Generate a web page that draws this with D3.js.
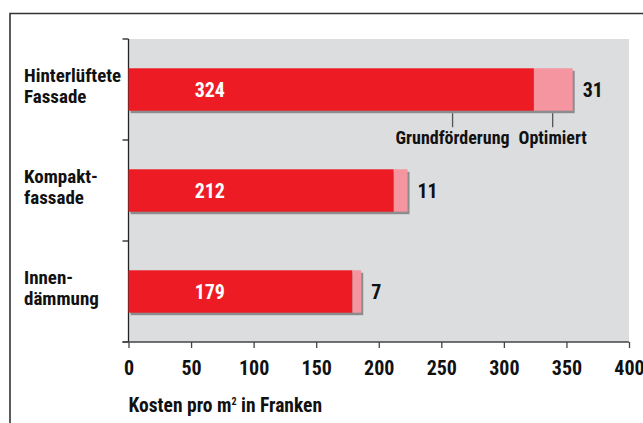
<!DOCTYPE html>
<html>
<head>
<meta charset="utf-8">
<script src="https://cdn.jsdelivr.net/npm/d3@7"></script>
<style>
  body { margin: 0; background: #fff; }
  svg text { font-family: "Liberation Sans Narrow", "Roboto Condensed", "DejaVu Sans Condensed", sans-serif; font-weight: bold; }
</style>
</head>
<body>
<script>
const WIDTH = 643;
const HEIGHT = 423;

// data
const categories = [["Hinterlüftete", "Fassade"], ["Kompakt-", "fassade"], ["Innen-", "dämmung"]];
const basis = [324, 212, 179];      // Grundförderung
const optimiert = [31, 11, 7];       // Zusatz optimiert
const xTicks = [0, 50, 100, 150, 200, 250, 300, 350, 400];

const RED = "#ed1c24";
const PINK = "#f4959f";
const BG = "#dcdddf";
const SHADOW = "#8c8c8e";

let svg = d3.select("body").append("svg")
            .attr("width", WIDTH)
            .attr("height", HEIGHT);

// outer frame (only top + left visible)
svg.append("path")
   .attr("d", `M10,${HEIGHT} L10,13.5 L${WIDTH},13.5`)
   .attr("fill", "none")
   .attr("stroke", "#333")
   .attr("stroke-width", 1.6);

const PL = 128.5, PR = 629, PT = 39, PB = 342;

let x = d3.scaleLinear().domain([0, 400]).range([PL, PR]);
let y = d3.scaleBand().domain(d3.range(categories.length)).range([PT, PB]).paddingInner(0.58).paddingOuter(0.29);

svg.append("rect")
   .attr("x", PL).attr("y", PT)
   .attr("width", PR - PL).attr("height", PB - PT)
   .attr("fill", BG);

// y axis with band boundary ticks
svg.append("line")
   .attr("x1", PL).attr("x2", PL)
   .attr("y1", PT).attr("y2", PB)
   .attr("stroke", "#222").attr("stroke-width", 1.3);
const bounds = d3.range(categories.length + 1).map(i => PT + i * (PB - PT) / categories.length);
svg.selectAll("line.ytick").data(bounds).enter().append("line")
   .attr("class", "ytick")
   .attr("x1", PL - 6).attr("x2", PL)
   .attr("y1", d => d).attr("y2", d => d)
   .attr("stroke", "#222").attr("stroke-width", 1.3);

// x axis
let xAxis = svg.append("g")
   .attr("transform", `translate(0,${PB})`)
   .call(d3.axisBottom(x).tickValues(xTicks).tickSize(6).tickPadding(13).tickSizeOuter(0));
xAxis.select(".domain").remove();
xAxis.append("line")
   .attr("x1", PL - 6).attr("x2", PR)
   .attr("stroke", "#444").attr("stroke-width", 1.5);
xAxis.selectAll(".tick line").attr("stroke", "#444").attr("stroke-width", 1.3);
xAxis.selectAll(".tick text")
   .attr("fill", "#111")
   .style("font-size", "20px")
   .attr("dy", "0.71em");

// bars
const bh = y.bandwidth();
let rows = svg.selectAll("g.row").data(basis).enter().append("g").attr("class", "row");

rows.append("rect")   // shadow
    .attr("x", x(0) + 2)
    .attr("y", (d, i) => y(i) + 2.5)
    .attr("width", (d, i) => x(d + optimiert[i]) - x(0))
    .attr("height", bh)
    .attr("fill", SHADOW);
rows.append("rect")
    .attr("x", x(0))
    .attr("y", (d, i) => y(i))
    .attr("width", d => x(d) - x(0))
    .attr("height", bh)
    .attr("fill", RED);
rows.append("rect")
    .attr("x", d => x(d))
    .attr("y", (d, i) => y(i))
    .attr("width", (d, i) => x(d + optimiert[i]) - x(d))
    .attr("height", bh)
    .attr("fill", PINK);

rows.append("text")
    .attr("x", x(65))
    .attr("y", (d, i) => y(i) + bh / 2)
    .attr("dy", "0.36em")
    .attr("text-anchor", "middle")
    .attr("fill", "#fff")
    .style("font-size", "20px")
    .text(d => d);

rows.append("text")
    .attr("x", (d, i) => x(d + optimiert[i]) + 10)
    .attr("y", (d, i) => y(i) + bh / 2)
    .attr("dy", "0.36em")
    .attr("fill", "#111")
    .style("font-size", "20px")
    .text((d, i) => optimiert[i]);

// category labels
let labels = svg.selectAll("text.cat").data(categories).enter().append("text")
   .attr("class", "cat")
   .attr("x", 24)
   .attr("y", (d, i) => y(i) + bh / 2 - 8)
   .attr("dy", "0.36em")
   .attr("fill", "#111")
   .style("font-size", "19px");
labels.selectAll("tspan").data(d => d).enter().append("tspan")
   .attr("x", 24)
   .attr("dy", (d, j) => j === 0 ? 0 : 21)
   .text(d => d);

// legend pointers on first bar
const legend = [{ label: "Grundförderung", v: 259 }, { label: "Optimiert", v: 339 }];
const by = y(0) + bh + 2.5;
svg.selectAll("line.leg").data(legend).enter().append("line")
   .attr("x1", d => x(d.v)).attr("x2", d => x(d.v))
   .attr("y1", by).attr("y2", by + 14)
   .attr("stroke", "#555").attr("stroke-width", 1.3);
svg.selectAll("text.leg").data(legend).enter().append("text")
   .attr("x", d => x(d.v))
   .attr("y", by + 31)
   .attr("text-anchor", "middle")
   .attr("fill", "#111")
   .style("font-size", "18px")
   .text(d => d.label);

// axis title
let title = svg.append("text")
   .attr("x", PL)
   .attr("y", 412)
   .attr("fill", "#111")
   .style("font-size", "19.5px");
title.append("tspan").text("Kosten pro m");
title.append("tspan").attr("dy", -7).style("font-size", "10px").text("2");
title.append("tspan").attr("dy", 7).text(" in Franken");
</script>
</body>
</html>
